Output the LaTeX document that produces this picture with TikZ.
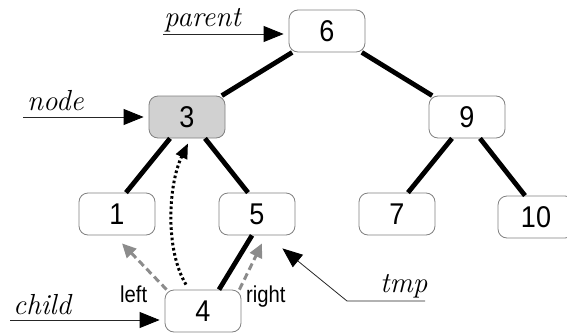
\documentclass[tikz,border=0pt]{standalone}
\usepackage{fontspec}
\newfontfamily\numfont[FakeStretch=0.9]{Liberation Sans}
\newfontfamily\sidefont[FakeStretch=0.88]{Liberation Sans}
\usetikzlibrary{arrows.meta}
\begin{document}
\begin{tikzpicture}[x=1pt,y=-1pt,
  key/.style={draw=black!50, line width=0.8pt, rounded corners=9pt, fill=white,
    minimum width=76pt, minimum height=42pt, inner sep=0pt,
    font=\numfont\fontsize{30}{30}\selectfont},
  cur/.style={key, fill=black!18},
  link/.style={line width=4.8pt, black},
  ptr/.style={line width=0.8pt, black!85, shorten >=5pt,
    -{Triangle[length=20pt,width=16pt,color=black,fill=black]}},
  tag/.style={font=\itshape\fontsize{29}{29}\selectfont, anchor=base west, inner sep=0pt},
  side/.style={font=\sidefont\fontsize{23}{23}\selectfont, anchor=base west, inner sep=0pt},
  probe/.style={black!45, line width=3pt, dash pattern=on 7pt off 4pt,
    -{Triangle[length=14pt,width=13pt]}},
  climb/.style={black, line width=3pt, dash pattern=on 2.6pt off 2.6pt,
    -{Triangle[length=15pt,width=12pt]}},
]
\useasboundingbox (0,0) rectangle (567,332);

% tree nodes
\node[key] (n6) at (327,31) {6};
\node[cur] (n3) at (187,117) {3};
\node[key] (n9) at (467,117) {9};
\node[key] (n1) at (117,214) {1};
\node[key] (n5) at (257,214) {5};
\node[key] (n7) at (397,214) {7};
\node[key] (n10) at (536,217) {10};
\node[key] (n4) at (203,311) {4};

% tree links
\draw[link] (n6) -- (n3);
\draw[link] (n6) -- (n9);
\draw[link] ([xshift=-17pt]n3.south) -- ([xshift=9pt]n1.north);
\draw[link] ([xshift=18pt]n3.south) -- ([xshift=-9pt]n5.north);
\draw[link] ([xshift=-15pt]n9.south) -- ([xshift=11pt]n7.north);
\draw[link] ([xshift=13pt]n9.south) -- ([xshift=-11pt]n10.north);
\draw[link] ([xshift=-5pt]n5.south) -- ([xshift=16pt]n4.north);

% child pointers and the way back up
\draw[probe] ([xshift=2pt]n4.north west) -- ([shift={(5,8)}]n1.south);
\draw[probe] ([xshift=-2pt]n4.north east) -- ([shift={(5,8)}]n5.south);
\draw[climb] ([shift={(-17,-5)}]n4.north) .. controls (165,250) and (168,185) .. ([shift={(1,5)}]n3.south);
\node[side] (lbl) at (120,302) {left};
\node[side] (lbr) at (246,302) {right};

% variable labels
\node[tag] (tp) at (164,26) {parent};
\coordinate (pS) at (163,34);
\draw[ptr] (pS) -- (pS -| n6.west);

\node[tag] (tn) at (27,110) {node};
\coordinate (nS) at (23,117);
\draw[ptr] (nS) -- (nS -| n3.west);

\node[tag] (tc) at (13,314) {child};
\coordinate (cS) at (10,320);
\draw[ptr] (cS) -- (cS -| n4.west);

\node[tag] (tt) at (380,292) {tmp};
\coordinate (tR) at (425,301);
\coordinate (tL) at (347,301);
\draw[ptr, shorten >=0pt] (tR) -- (tL) -- ([shift={(-13,13)}]n5.south east);
\end{tikzpicture}
\end{document}
